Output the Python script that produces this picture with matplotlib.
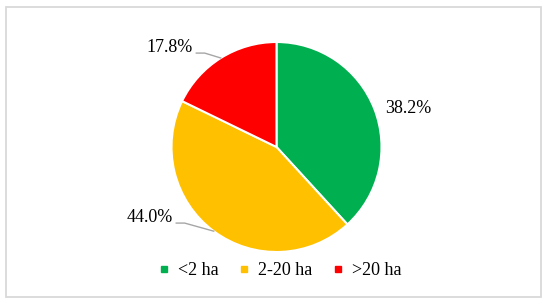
"""
Farm size distribution pie chart.
"""
import matplotlib
matplotlib.use("Agg")
import matplotlib.pyplot as plt
from matplotlib.lines import Line2D
from matplotlib.patches import Rectangle
import numpy as np

# data
categories = ["<2 ha", "2-20 ha", ">20 ha"]
shares = [38.2, 44.0, 17.8]
colors = ["#00B050", "#FFC000", "#FF0000"]

# label placement (pie radius units) and whether a leader line is drawn
label_pos = [(1.25, 0.37), (-1.205, -0.676), (-1.014, 0.943)]
leader = [False, True, True]

plt.rcParams['font.family'] = ['Liberation Serif', 'DejaVu Serif']

W, H = 550, 305
cx, cy, r = 276.5, 147, 105

fig = plt.figure(figsize=(W / 100, H / 100), dpi=100)
ax = fig.add_axes([0, 0, 1, 1])

wedges, _ = ax.pie(shares, colors=colors, startangle=90, counterclock=False,
                   wedgeprops=dict(edgecolor='white', linewidth=1.5))

ax.set_xlim(-cx / r, (W - cx) / r)
ax.set_ylim(-(H - cy) / r, cy / r)
ax.set_aspect('equal')
ax.axis('off')

renderer = fig.canvas.get_renderer()
for w, val, (lx, ly), has_line in zip(wedges, shares, label_pos, leader):
    txt = ax.text(lx, ly, f"{val:.1f}%", ha='center', va='center', fontsize=13)
    if has_line:
        mid = np.deg2rad((w.theta1 + w.theta2) / 2)
        ex, ey = np.cos(mid), np.sin(mid)
        bb = txt.get_window_extent(renderer).transformed(ax.transData.inverted())
        # start just right of the label text, near its baseline
        sx = bb.x1 + 0.03
        sy = bb.y0 + 0.2 * (bb.y1 - bb.y0)
        ax.plot([sx, sx + 0.08, ex], [sy, sy, ey], color='#a6a6a6', lw=1.0)

handles = [Line2D([], [], marker='s', linestyle='none', markersize=5,
                  markerfacecolor=c, markeredgecolor=c) for c in colors]
fig.legend(handles, categories, loc='center', bbox_to_anchor=(0.506, 0.112),
           ncol=3, frameon=False, fontsize=13, handletextpad=0.3,
           columnspacing=0.9, handlelength=1.0)

fig.patches.append(Rectangle((6 / W, 1 - 297 / H), 535 / W, 290 / H,
                             transform=fig.transFigure, fill=False,
                             edgecolor='#d9d9d9', linewidth=1.3))

plt.savefig('out.png', dpi=100)
